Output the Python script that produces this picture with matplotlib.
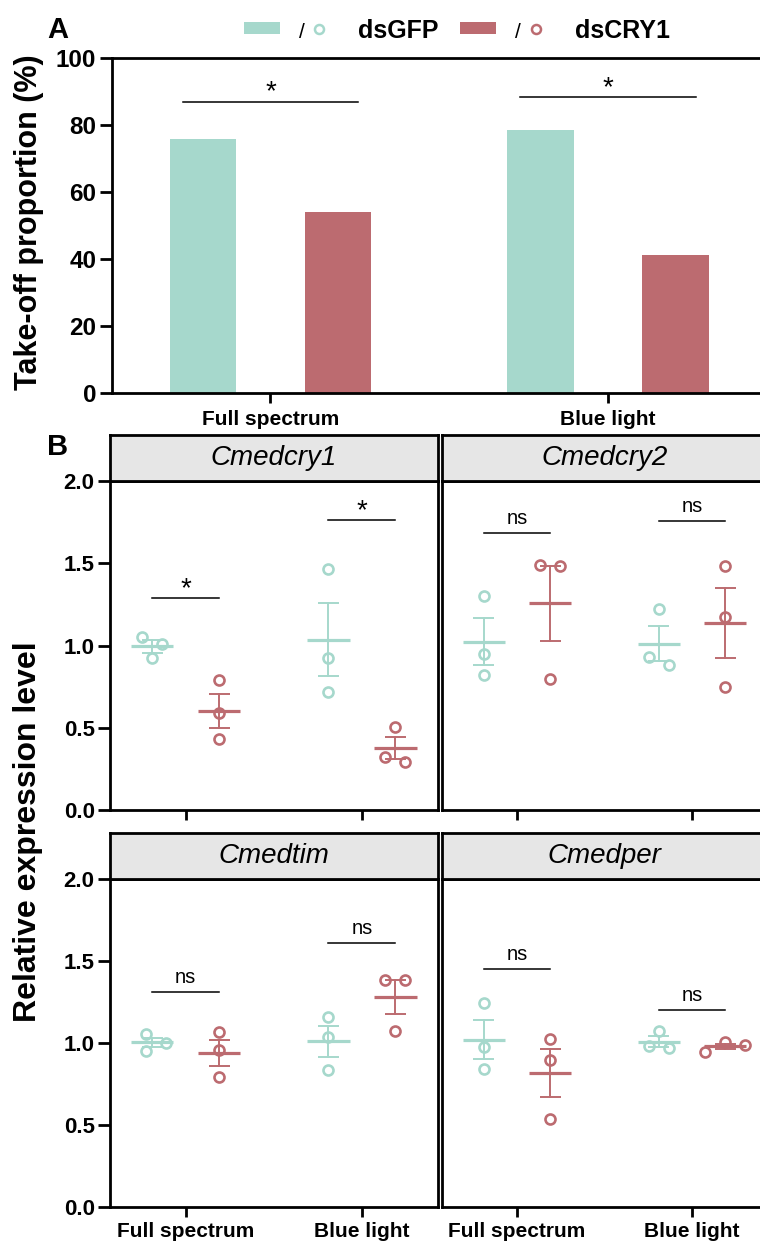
import numpy as np
import matplotlib
matplotlib.use("Agg")
import matplotlib.pyplot as plt
from matplotlib.patches import Rectangle
from matplotlib.lines import Line2D

plt.rcParams['font.family'] = ['Liberation Sans', 'DejaVu Sans']

# ---------------- data ----------------
conditions = ['Full spectrum', 'Blue light']
group_names = ['dsGFP', 'dsCRY1']

takeoff_gfp = [75.7, 78.5]
takeoff_cry1 = [54.0, 41.2]
takeoff_sig = ['*', '*']
takeoff_sig_level = [87.0, 88.4]

genes = ['Cmedcry1', 'Cmedcry2', 'Cmedtim', 'Cmedper']

cry1_gfp = [[1.050, 1.012, 0.922], [1.463, 0.922, 0.719]]
cry1_cry1 = [[0.790, 0.591, 0.430], [0.506, 0.294, 0.324]]
cry1_sig = ['*', '*']
cry1_sig_level = [1.287, 1.763]

cry2_gfp = [[1.301, 0.948, 0.821], [1.220, 0.932, 0.881]]
cry2_cry1 = [[1.489, 1.483, 0.795], [1.483, 1.175, 0.750]]
cry2_sig = ['ns', 'ns']
cry2_sig_level = [1.682, 1.759]

tim_gfp = [[1.055, 1.002, 0.953], [1.160, 1.038, 0.835]]
tim_cry1 = [[1.069, 0.957, 0.795], [1.384, 1.384, 1.075]]
tim_sig = ['ns', 'ns']
tim_sig_level = [1.309, 1.612]

per_gfp = [[1.246, 0.975, 0.841], [1.073, 0.967, 0.982]]
per_cry1 = [[1.023, 0.896, 0.535], [1.004, 0.988, 0.947]]
per_sig = ['ns', 'ns']
per_sig_level = [1.450, 1.201]

yticks_expr = [0.0, 0.5, 1.0, 1.5, 2.0]
yticks_takeoff = [0, 20, 40, 60, 80, 100]

# ---------------- style ----------------
GREEN = '#A6D8CC'
RED = '#BC6B70'
W, H = 760, 1244

fig = plt.figure(figsize=(W / 100, H / 100), dpi=100)


def fx(px):
    return px / W


def fy(py):
    return 1 - py / H


def box(x0, y0, x1, y1):
    return [fx(x0), fy(y1), (x1 - x0) / W, (y1 - y0) / H]


# ---------------- panel A ----------------
axA = fig.add_axes(box(111.5, 58, 766.6, 393))
xc = np.arange(len(conditions))
bw = 0.197
axA.bar(xc - 0.2, takeoff_gfp, bw, color=GREEN, zorder=2)
axA.bar(xc + 0.2, takeoff_cry1, bw, color=RED, zorder=2)
axA.set_xlim(-0.471, 1.47)
axA.set_ylim(0, 100)
axA.set_yticks(yticks_takeoff)
axA.set_xticks(xc)
axA.set_xticklabels(conditions, fontsize=15, fontweight='bold')
for lab in axA.get_yticklabels():
    lab.set_fontsize(17.5)
    lab.set_fontweight('bold')
axA.tick_params(axis='y', length=9, width=2, pad=2)
axA.tick_params(axis='x', length=7, width=2, pad=5)
for s in ['left', 'top', 'bottom']:
    axA.spines[s].set_linewidth(2)
axA.spines['right'].set_visible(False)
for i in range(len(conditions)):
    lvl = takeoff_sig_level[i]
    axA.plot([i - 0.26, i + 0.26], [lvl, lvl], color='black', lw=1.1)
    axA.annotate(takeoff_sig[i], (i, lvl), xytext=(0, 1.5), textcoords='offset points',
                 ha='center', va='baseline', fontsize=20)

fig.text(fx(29), fy(222), 'Take-off proportion (%)', rotation=90, ha='center', va='center',
         fontsize=22, fontweight='bold')
fig.text(fx(47), fy(38), 'A', fontsize=21, fontweight='bold', va='baseline', ha='left')

# legend
for (rx, col, sx, cx, tx, name) in [(244, GREEN, 302, 319, 358, group_names[0]),
                                     (460, RED, 518, 536, 575, group_names[1])]:
    fig.add_artist(Rectangle((fx(rx), fy(34)), 36 / W, 12 / H, transform=fig.transFigure,
                             facecolor=col, edgecolor='none'))
    fig.text(fx(sx), fy(38), '/', fontsize=15, ha='center', va='baseline')
    fig.add_artist(Line2D([fx(cx)], [fy(29)], marker='o', mfc='none', mec=col, ms=6.5, mew=1.8,
                          transform=fig.transFigure))
    fig.text(fx(tx), fy(38), name, fontsize=18, fontweight='bold', ha='left', va='baseline')

# ---------------- panel B ----------------
panels = [
    (genes[0], cry1_gfp, cry1_cry1, cry1_sig, cry1_sig_level, (110, 481, 437.7, 810), True, False),
    (genes[1], cry2_gfp, cry2_cry1, cry2_sig, cry2_sig_level, (441.8, 481, 767, 810), False, False),
    (genes[2], tim_gfp, tim_cry1, tim_sig, tim_sig_level, (110, 879, 437.7, 1207), True, True),
    (genes[3], per_gfp, per_cry1, per_sig, per_sig_level, (441.8, 879, 767, 1207), False, True),
]

XL = (-0.43, 1.43)
YL = (0, 2.0)


def swarm(vals, ppx, ppy, step=10.0, dmin=14.0):
    vals = np.asarray(vals, dtype=float)
    ys = vals * ppy
    order = np.argsort(-vals)
    cands = [0, step, -step, 2 * step, -2 * step, 3 * step, -3 * step]
    xs = np.zeros(len(vals))
    placed = []
    for i in order:
        for c in cands:
            if all(np.hypot(c - px, ys[i] - py) >= dmin for px, py in placed):
                break
        placed.append((c, ys[i]))
        xs[i] = c
    # center each cluster of vertically touching points
    srt = np.argsort(ys)
    clusters = [[srt[0]]]
    for a, b in zip(srt[:-1], srt[1:]):
        if ys[b] - ys[a] < dmin:
            clusters[-1].append(b)
        else:
            clusters.append([b])
    for cl in clusters:
        xs[cl] -= xs[cl].mean()
    return xs / ppx


for (gene, gfp, cry, sig, siglvl, (x0, y0, x1, y1), left, bottom) in panels:
    ax = fig.add_axes(box(x0, y0, x1, y1))
    ax.set_xlim(*XL)
    ax.set_ylim(*YL)
    ppx = (x1 - x0) / (XL[1] - XL[0])
    ppy = (y1 - y0) / (YL[1] - YL[0])
    for i in range(len(conditions)):
        for vals, col, off in [(gfp[i], GREEN, -0.19), (cry[i], RED, 0.19)]:
            c = i + off
            v = np.asarray(vals)
            m = v.mean()
            se = v.std(ddof=1) / np.sqrt(len(v))
            ax.plot([c - 0.12, c + 0.12], [m, m], color=col, lw=2.3, solid_capstyle='butt', zorder=3)
            ax.plot([c, c], [m - se, m + se], color=col, lw=1.4, zorder=3)
            for e in (m - se, m + se):
                ax.plot([c - 0.06, c + 0.06], [e, e], color=col, lw=1.4, solid_capstyle='butt', zorder=3)
            ax.plot(c + swarm(v, ppx, ppy), v, 'o', mfc='none', mec=col, ms=7.2, mew=1.9, zorder=4)
        lvl = siglvl[i]
        ax.plot([i - 0.19, i + 0.19], [lvl, lvl], color='black', lw=1.1)
        if sig[i] == '*':
            ax.annotate('*', (i, lvl), xytext=(0, 1.5), textcoords='offset points',
                        ha='center', va='baseline', fontsize=20)
        else:
            ax.annotate(sig[i], (i, lvl), xytext=(0, 6.5), textcoords='offset points',
                        ha='center', va='baseline', fontsize=14.5)
    for s in ax.spines.values():
        s.set_linewidth(2)
    ax.set_xticks(range(len(conditions)))
    if bottom:
        ax.set_xticklabels(conditions, fontsize=15, fontweight='bold')
    else:
        ax.set_xticklabels([])
    ax.tick_params(axis='x', length=7, width=2, pad=4)
    if left:
        ax.set_yticks(yticks_expr)
        ax.set_yticklabels([f'{t:.1f}' for t in yticks_expr], fontsize=16, fontweight='bold')
        ax.tick_params(axis='y', length=9, width=2, pad=2)
    else:
        ax.set_yticks([])
    # strip with gene name centred over the two categories
    sax = fig.add_axes(box(x0, y0 - 46, x1, y0))
    sax.set_facecolor('#E6E6E6')
    sax.set_xticks([])
    sax.set_yticks([])
    for s in sax.spines.values():
        s.set_linewidth(2)
    cx_px = x0 + (0.5 - XL[0]) * ppx
    sax.text((cx_px - x0) / (x1 - x0), 0.5, gene, transform=sax.transAxes,
             ha='center', va='center', fontsize=20, fontstyle='italic')

fig.text(fx(47), fy(455), 'B', fontsize=21, fontweight='bold', va='baseline', ha='left')
fig.text(fx(28), fy(832), 'Relative expression level', rotation=90, ha='center', va='center',
         fontsize=23, fontweight='bold')

fig.savefig('out.png', dpi=100)
